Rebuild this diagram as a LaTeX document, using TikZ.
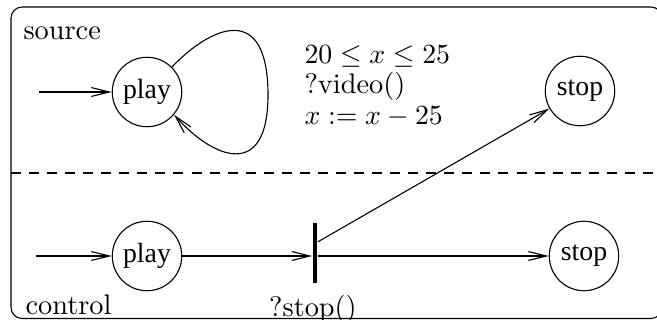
\documentclass[tikz,border=0pt]{standalone}
\usepackage{fontspec}
\newfontfamily\timesf{Liberation Serif}
\usetikzlibrary{arrows.meta}
\begin{document}
\begin{tikzpicture}[x=0.36pt,y=-0.36pt,
  line width=0.4pt,
  arr/.style={-{Straight Barb[length=6.5pt,width=3.2pt]}},
  state/.style={draw,circle,minimum size=25pt,inner sep=0pt,font=\timesf\fontsize{10}{12}\selectfont},
  lbl/.style={inner sep=0pt,anchor=base west,font=\fontsize{10.2}{12}\selectfont}]
\useasboundingbox (0,0) rectangle (657,320);
% frame
\draw[rounded corners=4pt] (11,7) rectangle (662,318.5);
\coordinate (dl) at (11,173);
\coordinate (dr) at (657,173);
\draw[dash pattern=on 3.6pt off 2.9pt] (dl) -- (dr);
% labels
\node[lbl] (src) at (23,40) {source};
\node[lbl] (ctl) at (25,315) {control};
% top automaton
\node[state] (p1) at (147,92) {play};
\node[state] (s1) at (580,91) {stop};
\coordinate (i1) at (39,92);
\draw[arr] (i1) -- (p1);
\coordinate (loopR) at (268,95);
\draw[arr] (p1.45) .. controls +(38,-40) and +(0,-95) .. (loopR)
  .. controls +(0,85) and +(40,45) .. (p1.-40);
\node[lbl] (g1) at (304,63) {$20\le x\le 25$};
\node[lbl] (g2) at (304,94) {?video()};
\node[lbl] (g3) at (304,124) {$x:=x-25$};
% bottom automaton
\node[state] (p2) at (147,256) {play};
\node[state] (s2) at (584,256) {stop};
\coordinate (i2) at (36,256);
\draw[arr] (i2) -- (p2);
\node[fill,inner sep=0pt,minimum width=1.6pt,minimum height=21.6pt] (bar) at (315,253) {};
\draw[arr] (p2) -- (bar.west |- p2);
\draw[arr] (bar.east |- s2) -- (s2);
\draw[arr] ([yshift=4pt]bar.east) -- (s1);
\node[inner sep=0pt,anchor=base,font=\fontsize{10.2}{12}\selectfont] (stp) at (313,316) {?stop()};
\end{tikzpicture}
\end{document}
